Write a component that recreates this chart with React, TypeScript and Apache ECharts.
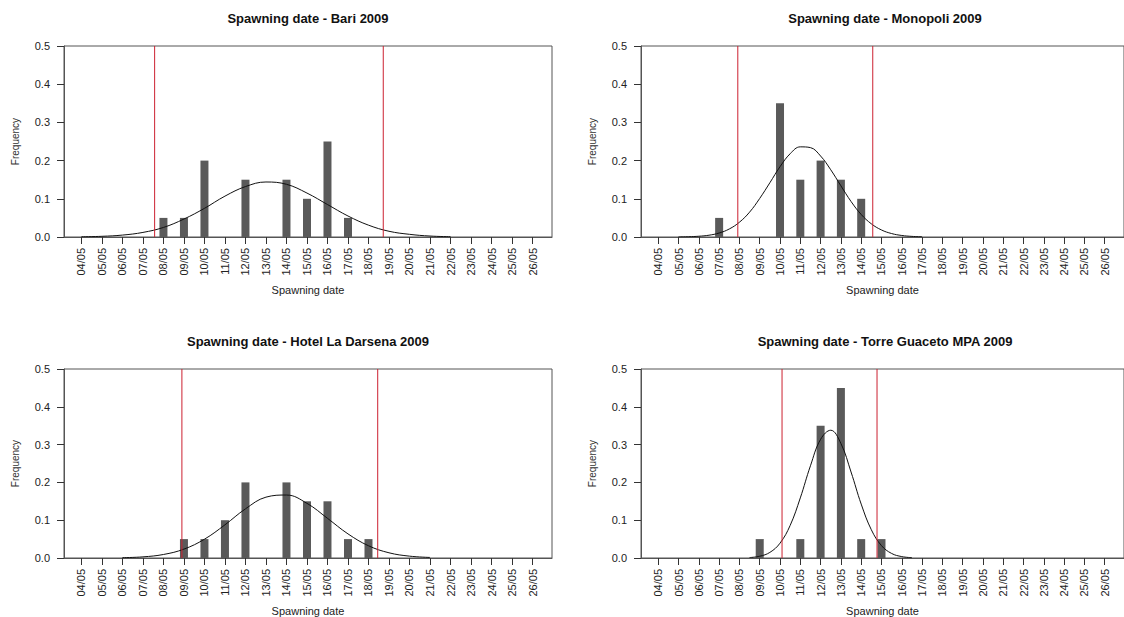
import React, { useEffect, useRef } from 'react';
import * as echarts from 'echarts';

// Day labels along every x axis (index 0 = 04/05)
const dateLabels = [
  '04/05', '05/05', '06/05', '07/05', '08/05', '09/05', '10/05', '11/05', '12/05', '13/05', '14/05', '15/05',
  '16/05', '17/05', '18/05', '19/05', '20/05', '21/05', '22/05', '23/05', '24/05', '25/05', '26/05',
];
const yTicks = [0, 0.1, 0.2, 0.3, 0.4, 0.5];

const titles = [
  'Spawning date - Bari 2009',
  'Spawning date - Monopoli 2009',
  'Spawning date - Hotel La Darsena 2009',
  'Spawning date - Torre Guaceto MPA 2009',
];

// Bari
const bariDays = ['08/05', '09/05', '10/05', '12/05', '14/05', '15/05', '16/05', '17/05'];
const bariFreq = [0.05, 0.05, 0.2, 0.15, 0.15, 0.1, 0.25, 0.05];
const bariCurveX = [0, 1, 2, 3, 4, 5, 6, 7, 8, 9, 10, 11, 12, 13, 14, 15, 16, 17, 18];
const bariCurveY = [0.0006, 0.0018, 0.005, 0.012, 0.025, 0.047, 0.075, 0.107, 0.132, 0.144, 0.138, 0.115, 0.085, 0.055, 0.031, 0.015, 0.007, 0.0025, 0.0008];
const bariLimits = [3.57, 14.72];

// Monopoli
const monoDays = ['07/05', '10/05', '11/05', '12/05', '13/05', '14/05'];
const monoFreq = [0.05, 0.35, 0.15, 0.2, 0.15, 0.1];
const monoCurveX = [1, 1.5, 2, 2.5, 3, 3.5, 4, 4.5, 5, 5.5, 6, 6.5, 7, 7.5, 8, 8.5, 9, 9.5, 10, 10.5, 11, 11.5, 12, 12.5, 13];
const monoCurveY = [0.0003, 0.0008, 0.002, 0.0047, 0.0104, 0.021, 0.0387, 0.065, 0.101, 0.142, 0.184, 0.218, 0.236, 0.234, 0.212, 0.176, 0.134, 0.093, 0.059, 0.0345, 0.0184, 0.009, 0.004, 0.0016, 0.0006];
const monoLimits = [3.92, 10.57];

// Hotel La Darsena
const darsDays = ['09/05', '10/05', '11/05', '12/05', '14/05', '15/05', '16/05', '17/05', '18/05'];
const darsFreq = [0.05, 0.05, 0.1, 0.2, 0.2, 0.15, 0.15, 0.05, 0.05];
const darsCurveX = [2, 3, 4, 5, 6, 7, 8, 9, 10, 11, 12, 13, 14, 15, 16, 17];
const darsCurveY = [0.0009, 0.003, 0.0093, 0.0235, 0.0497, 0.0878, 0.13, 0.161, 0.1666, 0.1446, 0.105, 0.0638, 0.0324, 0.0138, 0.0049, 0.0015];
const darsLimits = [4.9, 14.45];

// Torre Guaceto MPA
const torreDays = ['09/05', '11/05', '12/05', '13/05', '14/05', '15/05'];
const torreFreq = [0.05, 0.05, 0.35, 0.45, 0.05, 0.05];
const torreCurveX = [4.5, 5, 5.5, 6, 6.5, 7, 7.5, 8, 8.5, 9, 9.5, 10, 10.5, 11, 11.5, 12, 12.5];
const torreCurveY = [0.0012, 0.0047, 0.0148, 0.0392, 0.0862, 0.159, 0.244, 0.314, 0.338, 0.303, 0.2275, 0.1426, 0.0747, 0.0327, 0.012, 0.0037, 0.0009];
const torreLimits = [6.1, 10.78];

const panels = [
  { days: bariDays, freq: bariFreq, cx: bariCurveX, cy: bariCurveY, limits: bariLimits },
  { days: monoDays, freq: monoFreq, cx: monoCurveX, cy: monoCurveY, limits: monoLimits },
  { days: darsDays, freq: darsFreq, cx: darsCurveX, cy: darsCurveY, limits: darsLimits },
  { days: torreDays, freq: torreFreq, cx: torreCurveX, cy: torreCurveY, limits: torreLimits },
];

const FONT = '"Liberation Sans", Arial, Helvetica, sans-serif';
const LEFTS = [64, 641, 64, 641];
const TOPS = [46, 46, 369, 369];
const W = 488;
const H = 191;
const RED = '#cc2030';

export default function App() {
  const ref = useRef<HTMLDivElement>(null);

  useEffect(() => {
    if (!ref.current) return;
    const chart = echarts.init(ref.current, undefined, { renderer: 'svg' });
    const tickIdx = dateLabels.map((_, i) => i);

    const grids = panels.map((_, i) => ({
      left: LEFTS[i],
      top: TOPS[i],
      width: W,
      height: H,
      show: true,
      borderColor: '#555',
      borderWidth: 1,
      backgroundColor: 'transparent',
    }));

    const xAxes = panels.map((_, i) => ({
      type: 'value',
      gridIndex: i,
      min: -0.85,
      max: 22.95,
      name: 'Spawning date',
      nameLocation: 'middle',
      nameGap: 47,
      nameTextStyle: { fontFamily: FONT, fontSize: 11, color: '#222' },
      axisLine: { show: true, onZero: false, lineStyle: { color: '#555', width: 1 } },
      axisTick: { show: true, customValues: tickIdx, length: 7, lineStyle: { color: '#333', width: 1 } },
      axisLabel: {
        show: true,
        customValues: tickIdx,
        rotate: 90,
        margin: 11,
        fontFamily: FONT,
        fontSize: 11,
        color: '#222',
        formatter: (v: number) => dateLabels[Math.round(v)] ?? '',
      },
      splitLine: { show: false },
    }));

    const yAxes = panels.map((_, i) => ({
      type: 'value',
      gridIndex: i,
      min: yTicks[0],
      max: yTicks[yTicks.length - 1],
      interval: 0.1,
      name: 'Frequency',
      nameLocation: 'middle',
      nameGap: 44,
      nameTextStyle: { fontFamily: FONT, fontSize: 10, color: '#333' },
      axisLine: { show: true, onZero: false, lineStyle: { color: '#555', width: 1 } },
      axisTick: { show: true, length: 7, lineStyle: { color: '#333', width: 1 } },
      axisLabel: {
        margin: 14,
        fontFamily: FONT,
        fontSize: 11,
        color: '#222',
        formatter: (v: number) => v.toFixed(1),
      },
      splitLine: { show: false },
    }));

    const yTop = yTicks[yTicks.length - 1];
    const series: any[] = [];
    panels.forEach((p, i) => {
      series.push({
        type: 'bar',
        xAxisIndex: i,
        yAxisIndex: i,
        barWidth: 8,
        itemStyle: { color: '#5a5a5a' },
        data: p.days.map((d, k) => [dateLabels.indexOf(d), p.freq[k]]),
        z: 2,
      });
      series.push({
        type: 'line',
        xAxisIndex: i,
        yAxisIndex: i,
        smooth: 0.4,
        showSymbol: false,
        symbol: 'none',
        lineStyle: { color: '#111', width: 1 },
        data: p.cx.map((x, k) => [x, p.cy[k]]),
        z: 3,
      });
      // vertical limit lines spanning the full frequency range
      p.limits.forEach((lim) => {
        series.push({
          type: 'line',
          xAxisIndex: i,
          yAxisIndex: i,
          showSymbol: false,
          symbol: 'none',
          color: RED,
          lineStyle: { color: RED, width: 1 },
          data: [[lim, yTicks[0]], [lim, yTop]],
          z: 4,
        });
      });
    });

    const graphic = titles.map((t, i) => ({
      type: 'text',
      x: LEFTS[i] + W / 2,
      y: TOPS[i] - 28,
      style: {
        text: t,
        textAlign: 'center',
        textVerticalAlign: 'middle',
        font: `bold 13px ${FONT}`,
        fill: '#111',
      },
    }));

    chart.setOption({
      animation: false,
      backgroundColor: '#ffffff',
      grid: grids,
      xAxis: xAxes,
      yAxis: yAxes,
      series,
      graphic,
    });

    return () => chart.dispose();
  }, []);

  return (
    <div
      ref={ref}
      style={{ position: 'fixed', left: 0, top: 0, width: 1124, height: 617, background: '#fff' }}
    />
  );
}
